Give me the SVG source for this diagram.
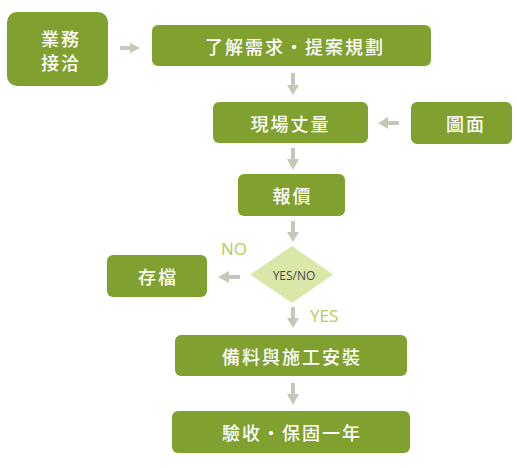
<svg xmlns="http://www.w3.org/2000/svg" width="517" height="468" viewBox="0 0 517 468">
<defs>
<style>
.box{fill:#80a12f;}
.t{fill:#ffffff;font-family:"Noto Sans CJK TC","Noto Sans CJK SC",sans-serif;font-size:18px;font-weight:500;text-anchor:middle;dominant-baseline:central;letter-spacing:2px;}
.arr{fill:#c4c8b8;}
.lbl{fill:#b3cb5c;font-family:"Open Sans","Noto Sans",sans-serif;font-size:17px;}
</style>
</defs>
<rect width="517" height="468" fill="#ffffff"/>
<g id="connectors">
<path class="arr" d="M120,46 H130 V43 L140,48 L130,53 V50 H120 Z"/>
<path class="arr" d="M291,73 V85 H287 L293,95 L299,85 H295 V73 Z"/>
<path class="arr" d="M399,121 H388 V117 L378,123 L388,129 V125 H399 Z"/>
<path class="arr" d="M291,148 V159 H287 L293,170 L299,159 H295 V148 Z"/>
<path class="arr" d="M291,221 V232 H287 L293,242 L299,232 H295 V221 Z"/>
<path class="arr" d="M240,275 H229 V271 L218,277 L229,283 V279 H240 Z"/>
<path class="arr" d="M291,307 V318 H287 L293,328 L299,318 H295 V307 Z"/>
<path class="arr" d="M291,383 V394 H287 L293,405 L299,394 H295 V383 Z"/>
</g>
<g id="n1"><rect class="box" x="7" y="12" width="101" height="74" rx="10"/><text class="t" x="61" y="38">業務</text><text class="t" x="61" y="62">接洽</text></g>
<g id="n2"><rect class="box" x="152" y="25" width="279" height="41" rx="6"/><text class="t" x="295" y="45.5">了解需求‧提案規劃</text></g>
<g id="n3"><rect class="box" x="213" y="102" width="155" height="41" rx="6"/><text class="t" x="290.5" y="122.5">現場丈量</text></g>
<g id="n4"><rect class="box" x="411" y="102" width="101" height="42" rx="6"/><text class="t" x="466" y="123">圖面</text></g>
<g id="n5"><rect class="box" x="238" y="174" width="107" height="42" rx="6"/><text class="t" x="292.5" y="195">報價</text></g>
<g id="n6"><polygon points="292,246 333,274.5 292,303 250,274.5" fill="#d9e7a9"/><text x="294" y="275" fill="#4a4a4a" font-family="'Open Sans','Noto Sans',sans-serif" font-size="12" text-anchor="middle" dominant-baseline="central">YES/NO</text></g>
<g id="n7"><rect class="box" x="107" y="255" width="100" height="42" rx="6"/><text class="t" x="158" y="276">存檔</text></g>
<g id="n8"><rect class="box" x="175" y="335" width="232" height="41" rx="6"/><text class="t" x="292" y="355.5">備料與施工安裝</text></g>
<g id="n9"><rect class="box" x="172" y="411" width="238" height="42" rx="6"/><text class="t" x="292" y="432">驗收‧保固一年</text></g>
<text class="lbl" x="221" y="255">NO</text>
<text class="lbl" x="310" y="322">YES</text>
</svg>
